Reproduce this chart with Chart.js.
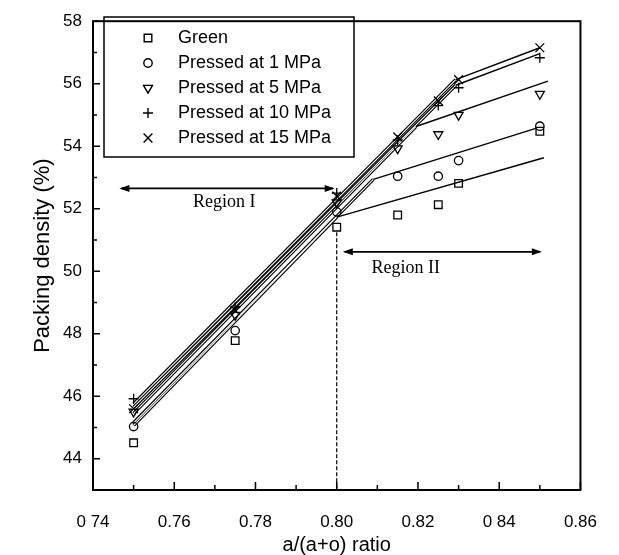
<!DOCTYPE html>
<html>
<head>
<meta charset="utf-8">
<script src="https://cdn.jsdelivr.net/npm/chart.js@4.4.1/dist/chart.umd.min.js"></script>
<style>
  body { margin: 0; background: #fff; }
  #wrap { width: 619px; height: 555px; }
</style>
</head>
<body>
<div id="wrap"><canvas id="chart"></canvas></div>
<script>
// measured compositions and packing densities
const ratios = [0.75, 0.775, 0.80, 0.815, 0.825, 0.83, 0.85];
const green = [44.51, 47.78, 51.41, 51.8, 52.13, 52.81, 54.48];
const mpa1 = [45.03, 48.1, 51.9, 53.04, 53.04, 53.54, 54.64];
const mpa5 = [45.5, 48.6, 52.2, 53.93, 54.38, 55.0, 55.67];
const mpa10 = [45.92, 48.85, 52.5, 54.2, 55.3, 55.87, 56.83];
const mpa15 = [45.6, 48.75, 52.4, 54.3, 55.45, 56.13, 57.15];

// two-region fitted lines (start, break, end)
const greenFitX = [0.75, 0.80, 0.851], greenFitY = [45.07, 51.73, 53.63];
const mpa1FitX = [0.75, 0.809, 0.849], mpa1FitY = [45.15, 52.94, 54.57];
const mpa5FitX = [0.75, 0.8195, 0.852], mpa5FitY = [45.45, 54.63, 56.08];
const mpa10FitX = [0.75, 0.8293, 0.85], mpa10FitY = [45.65, 55.95, 56.96];
const mpa15FitX = [0.75, 0.8293, 0.85], mpa15FitY = [45.75, 56.13, 57.15];

const seriesNames = ['Green', 'Pressed at 1 MPa', 'Pressed at 5 MPa', 'Pressed at 10 MPa', 'Pressed at 15 MPa'];
const xTicks = [0.74, 0.76, 0.78, 0.80, 0.82, 0.84, 0.86];
const xTickLabels = ['0 74', '0.76', '0.78', '0.80', '0.82', '0 84', '0.86'];
const xMinor = [0.75, 0.77, 0.79, 0.81, 0.83, 0.85];
const yTicks = [44, 46, 48, 50, 52, 54, 56, 58];
const yMinor = [45, 47, 49, 51, 53, 55, 57];

const SANS = "'Liberation Sans', Arial, sans-serif";
const SERIF = "'Liberation Serif', 'Times New Roman', serif";

const marks = [
  { style: 'rect', r: 5.4, rot: 0 },
  { style: 'circle', r: 4.2, rot: 0 },
  { style: 'triangle', r: 5.2, rot: 180 },
  { style: 'cross', r: 5, rot: 0 },
  { style: 'crossRot', r: 6.2, rot: 0 }
];

const pts = (xs, ys) => xs.map((v, i) => ({ x: v, y: ys[i] }));

function pointSet(label, ys, m) {
  return {
    label, data: pts(ratios, ys), order: 0,
    pointStyle: m.style, pointRadius: m.r, pointRotation: m.rot,
    borderColor: '#000', backgroundColor: 'rgba(0,0,0,0)', borderWidth: 1.3,
    pointHoverRadius: m.r
  };
}
// region I segments look like hollow double strokes, region II like thin lines
function fitSets(xs, ys) {
  const r1 = pts(xs.slice(0, 2), ys.slice(0, 2));
  const r2 = pts(xs.slice(1), ys.slice(1));
  const base = { label: '', showLine: true, pointRadius: 0, fill: false };
  return [
    { ...base, data: r1, order: 3, borderColor: '#000', borderWidth: 3.4 },
    { ...base, data: r1, order: 2, borderColor: '#fff', borderWidth: 1.1 },
    { ...base, data: r2, order: 1, borderColor: '#000', borderWidth: 1.4 }
  ];
}

const datasets = [
  pointSet(seriesNames[0], green, marks[0]),
  pointSet(seriesNames[1], mpa1, marks[1]),
  pointSet(seriesNames[2], mpa5, marks[2]),
  pointSet(seriesNames[3], mpa10, marks[3]),
  pointSet(seriesNames[4], mpa15, marks[4]),
  ...fitSets(greenFitX, greenFitY),
  ...fitSets(mpa1FitX, mpa1FitY),
  ...fitSets(mpa5FitX, mpa5FitY),
  ...fitSets(mpa10FitX, mpa10FitY),
  ...fitSets(mpa15FitX, mpa15FitY),
  {
    label: '', data: pts([0.80, 0.80], [51.25, 43]), showLine: true, order: 1,
    pointRadius: 0, borderColor: '#000', borderWidth: 1.2, borderDash: [4, 2]
  }
];

function arrow(ctx, x1, x2, y) {
  const h = 10, w = 3.5;
  ctx.beginPath();
  ctx.moveTo(x1 + 2, y); ctx.lineTo(x2 - 2, y);
  ctx.lineWidth = 1.6; ctx.stroke();
  ctx.beginPath();
  ctx.moveTo(x1, y); ctx.lineTo(x1 + h, y - w); ctx.lineTo(x1 + h, y + w); ctx.closePath();
  ctx.moveTo(x2, y); ctx.lineTo(x2 - h, y - w); ctx.lineTo(x2 - h, y + w); ctx.closePath();
  ctx.fill();
}

const overlay = {
  id: 'overlay',
  afterDatasetsDraw(chart) {
    const { ctx, chartArea: a, scales: { x, y } } = chart;
    ctx.save();
    ctx.strokeStyle = '#000';
    ctx.fillStyle = '#000';

    // frame
    ctx.lineWidth = 2;
    ctx.strokeRect(a.left, a.top, a.right - a.left, a.bottom - a.top);

    // inward ticks
    ctx.lineWidth = 1.5;
    ctx.beginPath();
    xTicks.forEach(v => { const px = x.getPixelForValue(v); ctx.moveTo(px, a.bottom); ctx.lineTo(px, a.bottom - 8); });
    xMinor.forEach(v => { const px = x.getPixelForValue(v); ctx.moveTo(px, a.bottom); ctx.lineTo(px, a.bottom - 5); });
    yTicks.forEach(v => { const py = y.getPixelForValue(v); ctx.moveTo(a.left, py); ctx.lineTo(a.left + 7, py); });
    yMinor.forEach(v => { const py = y.getPixelForValue(v); ctx.moveTo(a.left, py); ctx.lineTo(a.left + 4, py); });
    ctx.stroke();

    // region arrows and labels
    arrow(ctx, x.getPixelForValue(0.7465), x.getPixelForValue(0.7995), y.getPixelForValue(52.65));
    arrow(ctx, x.getPixelForValue(0.8015), x.getPixelForValue(0.8505), y.getPixelForValue(50.62));
    ctx.font = '18px ' + SERIF;
    ctx.textAlign = 'center';
    ctx.textBaseline = 'middle';
    ctx.fillText('Region I', x.getPixelForValue(0.7723), y.getPixelForValue(52.2));
    ctx.fillText('Region II', x.getPixelForValue(0.817), y.getPixelForValue(50.08));

    // legend box
    ctx.lineWidth = 1.5;
    ctx.strokeRect(104, 17, 250, 140);
    ctx.font = '18px ' + SANS;
    ctx.textAlign = 'left';
    seriesNames.forEach((name, i) => {
      const ry = 38 + i * 25;
      const m = marks[i];
      ctx.lineWidth = 1.4;
      ctx.fillStyle = 'rgba(0,0,0,0)';
      Chart.helpers.drawPoint(ctx, { pointStyle: m.style, radius: m.r, rotation: m.rot, borderWidth: 1.4 }, 148, ry);
      ctx.fillStyle = '#000';
      ctx.fillText(name, 178, ry);
    });
    ctx.restore();
  }
};

new Chart(document.getElementById('chart'), {
  type: 'scatter',
  data: { datasets },
  options: {
    responsive: true,
    maintainAspectRatio: false,
    animation: false,
    events: [],
    layout: { padding: { left: 0, right: 30, top: 13, bottom: 0 } },
    plugins: { legend: { display: false }, tooltip: { enabled: false } },
    scales: {
      x: {
        type: 'linear', min: 0.74, max: 0.86,
        afterBuildTicks: s => { s.ticks = xTicks.map(v => ({ value: v })); },
        afterFit: s => { s.height = 65; },
        grid: { display: false, drawTicks: false },
        border: { display: false },
        ticks: {
          color: '#000', padding: 22, maxRotation: 0, autoSkip: false,
          font: { family: SANS, size: 17 },
          callback: (v, i) => xTickLabels[i]
        },
        title: {
          display: true, text: 'a/(a+o) ratio', color: '#000',
          font: { family: SANS, size: 20, lineHeight: 1 }, padding: { top: 0, bottom: 0 }
        }
      },
      y: {
        type: 'linear', min: 43, max: 58,
        afterBuildTicks: s => { s.ticks = yTicks.map(v => ({ value: v })); },
        afterFit: s => { s.width = 93; },
        grid: { display: false, drawTicks: false },
        border: { display: false },
        ticks: {
          color: '#000', padding: 11,
          font: { family: SANS, size: 17 }
        },
        title: {
          display: true, text: 'Packing density (%)', color: '#000',
          font: { family: SANS, size: 22, lineHeight: 1 }, padding: { top: 32, bottom: 0 }
        }
      }
    }
  },
  plugins: [overlay]
});
</script>
</body>
</html>
